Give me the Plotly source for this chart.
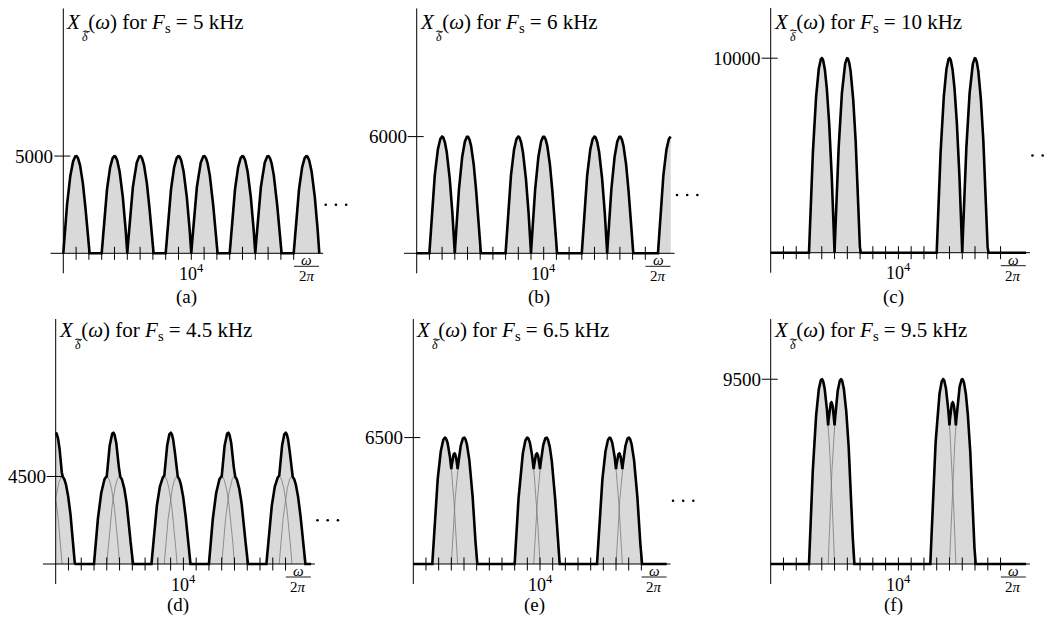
import numpy as np
import plotly.graph_objects as go

W, H = 1048, 621

# ---------------- data ----------------
fs_values = [5000, 6000, 10000, 4500, 6500, 9500]          # sampling rates (Hz)
fs_labels = ["5", "6", "10", "4.5", "6.5", "9.5"]          # kHz in titles
ytick_labels = ["5000", "6000", "10000", "4500", "6500", "9500"]
panel_letters = ["(a)", "(b)", "(c)", "(d)", "(e)", "(f)"]
band_center = 4000        # Hz, centre of the original band
band_halfwidth = 1000     # Hz
f_max = 20000             # Hz, right end of plotted spectrum
tick_freqs = [1000 * k for k in range(1, 19)]
xtick_freq = 10000
xtick_text = "10<sup>4</sup>"
dots_freqs = [20500, 21300, 22100]
show_dots = [True, True, True, True, True, False]
axis_start = [-1000, -1000, 0, -1000, 0, 0]

# ---------------- layout (screen pixels) ----------------
origins = [(63.3, 253.3, 12.8), (416.7, 253.3, 12.7), (770.7, 252.7, 12.77),
           (55.7, 564.0, 12.77), (413.3, 564.0, 12.67), (770.7, 564.0, 12.77)]
SY = 19.45 / 1000.0     # px per unit in y
FONT = "Liberation Serif"
SP = "\u00a0"
TS = "\u2009"

FILL = "#d9d9d9"
THIN = "#7a7a7a"

fig = go.Figure()
f = np.linspace(0, f_max, 4001)

for i in range(6):
    suf = "" if i == 0 else str(i + 1)
    xr, yr = "x" + suf, "y" + suf
    ox, oy, sx = origins[i]
    sxh = sx / 1000.0
    Fs = fs_values[i]

    x0 = -1500
    x1 = min(23000, (W - 0.5 - ox) / sxh)
    y0, y1 = -1200, 12600
    dom_x = [(ox + x0 * sxh) / W, (ox + x1 * sxh) / W]
    dom_y = [1 - (oy - y0 * SY) / H, min(1.0, 1 - (oy - y1 * SY) / H)]
    fig.layout["xaxis" + suf] = dict(domain=dom_x, range=[x0, x1], visible=False,
                                     anchor=yr, fixedrange=True)
    fig.layout["yaxis" + suf] = dict(domain=dom_y, range=[y0, y1], visible=False,
                                     anchor=xr, fixedrange=True)

    # components
    centers = []
    for k in range(-3, 8):
        for c in (band_center + k * Fs, -band_center + k * Fs):
            if c + band_halfwidth > 0 and c - band_halfwidth < f_max:
                centers.append(c)
    total = np.zeros_like(f)
    comps = []
    for c in centers:
        u = (f - c) / band_halfwidth
        m = np.abs(u) <= 1
        y = np.where(m, Fs * (1 - u ** 2), 0.0)
        total += y
        comps.append((f[m], y[m]))

    # fill
    fig.add_trace(go.Scatter(x=f, y=total, xaxis=xr, yaxis=yr, mode="lines",
                             line=dict(width=0, color=FILL), fill="tozeroy",
                             fillcolor=FILL, hoverinfo="skip", showlegend=False))
    # thin component curves
    cx, cy = [], []
    for fx, fy in comps:
        cx += list(fx) + [None]
        cy += list(fy) + [None]
    fig.add_trace(go.Scatter(x=cx, y=cy, xaxis=xr, yaxis=yr, mode="lines",
                             line=dict(width=0.8, color=THIN),
                             hoverinfo="skip", showlegend=False))
    # axes lines
    ax_x = [axis_start[i], f_max + 300, None, 0, 0]
    ax_y = [0, 0, None, -1030, 12600]
    fig.add_trace(go.Scatter(x=ax_x, y=ax_y, xaxis=xr, yaxis=yr, mode="lines",
                             line=dict(width=1, color="black"),
                             hoverinfo="skip", showlegend=False))
    # x ticks (crossing axis) and y tick
    th = 6.5 / SY
    tx, ty = [], []
    for t in tick_freqs:
        tx += [t, t, None]
        ty += [-th, th, None]
    tx += [-9 / sxh, 7 / sxh, None]
    ty += [Fs, Fs, None]
    fig.add_trace(go.Scatter(x=tx, y=ty, xaxis=xr, yaxis=yr, mode="lines",
                             line=dict(width=1, color="black"),
                             hoverinfo="skip", showlegend=False))
    # thick sum curve
    fig.add_trace(go.Scatter(x=f, y=total, xaxis=xr, yaxis=yr, mode="lines",
                             line=dict(width=2.6, color="black"),
                             hoverinfo="skip", showlegend=False))
    # dots
    if show_dots[i]:
        fig.add_trace(go.Scatter(x=dots_freqs, y=[Fs / 2] * 3, xaxis=xr, yaxis=yr,
                                 mode="markers", marker=dict(size=2.6, color="black"),
                                 hoverinfo="skip", showlegend=False, cliponaxis=False))

    # texts
    ty_shift = 230 if i < 3 else 233
    title = ("<i>X</i>" + TS + TS + "(<i>ω</i>)" + SP + "for" + SP
             + "<i>F</i><sub>s</sub>" + SP + "=" + SP + fs_labels[i] + SP + "kHz")
    fig.add_annotation(x=0, y=0, xref=xr, yref=yr, text=title, showarrow=False,
                       xanchor="left", yanchor="middle", xshift=1, yshift=ty_shift,
                       font=dict(family=FONT, size=21, color="black"))
    fig.add_annotation(x=0, y=0, xref=xr, yref=yr, text="<i>δ</i>", showarrow=False,
                       xanchor="center", yanchor="middle", xshift=22,
                       yshift=ty_shift - 14,
                       font=dict(family=FONT, size=12, color="black"))
    fig.add_annotation(x=0, y=0, xref=xr, yref=yr, text="\u223c", showarrow=False,
                       xanchor="center", yanchor="middle", xshift=23,
                       yshift=ty_shift - 8,
                       font=dict(family="DejaVu Sans", size=11, color="black"))
    fig.add_annotation(x=0, y=Fs, xref=xr, yref=yr, text=ytick_labels[i],
                       showarrow=False, xanchor="right", yanchor="middle", xshift=-8,
                       font=dict(family=FONT, size=19, color="black"))
    fig.add_annotation(x=xtick_freq, y=0, xref=xr, yref=yr, text=xtick_text,
                       showarrow=False, xanchor="center", yanchor="middle", yshift=-19,
                       font=dict(family=FONT, size=18, color="black"))
    fig.add_annotation(x=19000, y=0, xref=xr, yref=yr, text="<i>ω</i>",
                       showarrow=False, xanchor="center", yanchor="middle", yshift=-7,
                       font=dict(family=FONT, size=15, color="black"))
    fig.add_annotation(x=19000, y=0, xref=xr, yref=yr, text="2<i>π</i>",
                       showarrow=False, xanchor="center", yanchor="middle", yshift=-23,
                       font=dict(family=FONT, size=15, color="black"))
    fig.add_trace(go.Scatter(x=[19000 - 12.5 / sxh, 19000 + 12.5 / sxh],
                             y=[-13 / SY, -13 / SY], xaxis=xr, yaxis=yr, mode="lines",
                             line=dict(width=0.9, color="black"), cliponaxis=False,
                             hoverinfo="skip", showlegend=False))
    fig.add_annotation(x=9600, y=0, xref=xr, yref=yr, text=panel_letters[i],
                       showarrow=False, xanchor="center", yanchor="middle",
                       yshift=-44 if i < 3 else -41,
                       font=dict(family=FONT, size=19, color="black"))

fig.update_layout(width=W, height=H, margin=dict(l=0, r=0, t=0, b=0),
                  plot_bgcolor="white", paper_bgcolor="white", showlegend=False)
fig.write_html("out.html", config={"displayModeBar": False},
               post_script="document.body.style.margin='0';"
                           "document.body.style.overflow='hidden';")
